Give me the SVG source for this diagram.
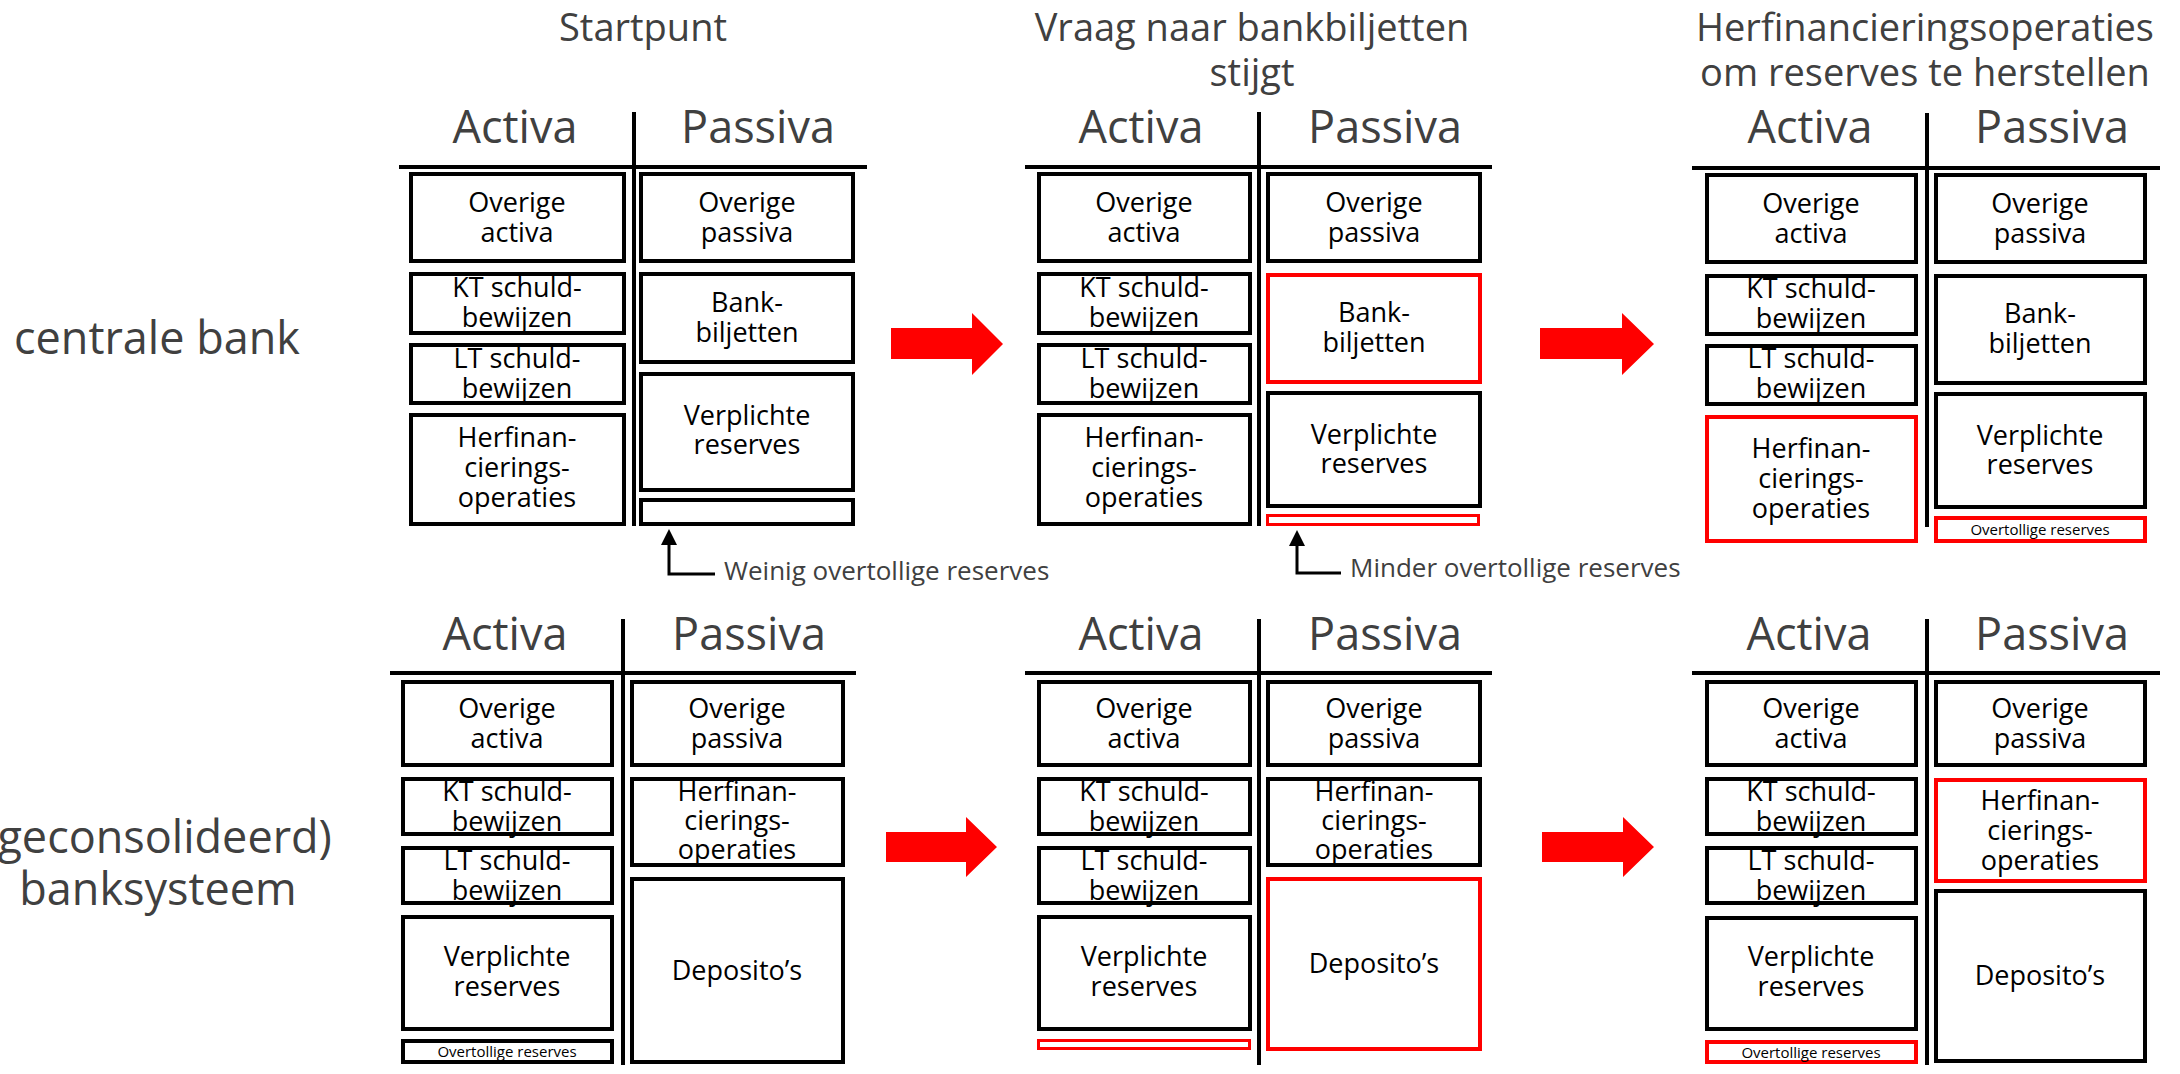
<svg xmlns="http://www.w3.org/2000/svg" width="2180" height="1074" viewBox="0 0 2180 1074">
  <style>
    text { font-family: "Open Sans", "Noto Sans", "Liberation Sans", sans-serif; text-anchor: middle; }
    .box { fill: #fff; stroke: #000; stroke-width: 4; }
    .red { stroke: #ff0000; }
    .thin { stroke-width: 3; }
    .rule { stroke: #000; stroke-width: 4; fill: none; }
    .lbl { font-size: 27px; fill: #000; }
    .small { font-size: 15px; fill: #000; }
    .hdr { font-size: 45px; fill: #404040; }
    .ttl { font-size: 38px; fill: #404040; }
    .side { font-size: 45px; fill: #404040; }
    .note { font-size: 26px; fill: #404040; text-anchor: start; }
    .bigarrow { fill: #ff0000; }
    .ptr { stroke: #000; stroke-width: 3; fill: none; }
    .ptrhead { fill: #000; }
  </style>

  <!-- row labels -->
  <g id="row-centrale-bank">
    <text class="side" x="157" y="354">centrale bank</text>
  </g>
  <g id="row-banksysteem">
    <text class="side" x="158" y="853">(geconsolideerd)</text>
    <text class="side" x="158" y="905">banksysteem</text>
  </g>

  <!-- column titles -->
  <g id="title-startpunt">
    <text class="ttl" x="643" y="41">Startpunt</text>
  </g>
  <g id="title-vraag">
    <text class="ttl" x="1252" y="41">Vraag naar bankbiljetten</text>
    <text class="ttl" x="1252" y="86">stijgt</text>
  </g>
  <g id="title-herfinanciering">
    <text class="ttl" x="1925" y="41">Herfinancieringsoperaties</text>
    <text class="ttl" x="1925" y="86">om reserves te herstellen</text>
  </g>

  <!-- ===== central bank, start ===== -->
  <g id="cb-start">
    <text class="hdr" x="515" y="143">Activa</text>
    <text class="hdr" x="758" y="143">Passiva</text>
    <line class="rule" x1="399" y1="167" x2="867" y2="167"/>
    <line class="rule" x1="634" y1="112" x2="634" y2="526"/>
    <g id="cb1-overige-activa"><rect class="box" x="411" y="174" width="213" height="87"/>
      <text class="lbl" x="517" y="212">Overige</text><text class="lbl" x="517" y="242">activa</text></g>
    <g id="cb1-kt"><rect class="box" x="411" y="274" width="213" height="59"/>
      <text class="lbl" x="517" y="297">KT schuld-</text><text class="lbl" x="517" y="327">bewijzen</text></g>
    <g id="cb1-lt"><rect class="box" x="411" y="345" width="213" height="58"/>
      <text class="lbl" x="517" y="368">LT schuld-</text><text class="lbl" x="517" y="398">bewijzen</text></g>
    <g id="cb1-herfin"><rect class="box" x="411" y="415" width="213" height="109"/>
      <text class="lbl" x="517" y="447">Herfinan-</text><text class="lbl" x="517" y="477">cierings-</text><text class="lbl" x="517" y="507">operaties</text></g>
    <g id="cb1-overige-passiva"><rect class="box" x="641" y="174" width="212" height="87"/>
      <text class="lbl" x="747" y="212">Overige</text><text class="lbl" x="747" y="242">passiva</text></g>
    <g id="cb1-bankbiljetten"><rect class="box" x="641" y="274" width="212" height="88"/>
      <text class="lbl" x="747" y="312">Bank-</text><text class="lbl" x="747" y="342">biljetten</text></g>
    <g id="cb1-verplicht"><rect class="box" x="641" y="374" width="212" height="116"/>
      <text class="lbl" x="747" y="425">Verplichte</text><text class="lbl" x="747" y="454">reserves</text></g>
    <g id="cb1-overtollig"><rect class="box" x="641" y="500" width="212" height="24"/></g>
  </g>

  <!-- ===== central bank, more banknotes ===== -->
  <g id="cb-vraag">
    <text class="hdr" x="1141" y="143">Activa</text>
    <text class="hdr" x="1385" y="143">Passiva</text>
    <line class="rule" x1="1025" y1="167" x2="1492" y2="167"/>
    <line class="rule" x1="1259" y1="112" x2="1259" y2="526"/>
    <g id="cb2-overige-activa"><rect class="box" x="1039" y="174" width="211" height="87"/>
      <text class="lbl" x="1144" y="212">Overige</text><text class="lbl" x="1144" y="242">activa</text></g>
    <g id="cb2-kt"><rect class="box" x="1039" y="274" width="211" height="59"/>
      <text class="lbl" x="1144" y="297">KT schuld-</text><text class="lbl" x="1144" y="327">bewijzen</text></g>
    <g id="cb2-lt"><rect class="box" x="1039" y="345" width="211" height="58"/>
      <text class="lbl" x="1144" y="368">LT schuld-</text><text class="lbl" x="1144" y="398">bewijzen</text></g>
    <g id="cb2-herfin"><rect class="box" x="1039" y="415" width="211" height="109"/>
      <text class="lbl" x="1144" y="447">Herfinan-</text><text class="lbl" x="1144" y="477">cierings-</text><text class="lbl" x="1144" y="507">operaties</text></g>
    <g id="cb2-overige-passiva"><rect class="box" x="1268" y="174" width="212" height="87"/>
      <text class="lbl" x="1374" y="212">Overige</text><text class="lbl" x="1374" y="242">passiva</text></g>
    <g id="cb2-bankbiljetten"><rect class="box red" x="1268" y="275" width="212" height="107"/>
      <text class="lbl" x="1374" y="322">Bank-</text><text class="lbl" x="1374" y="352">biljetten</text></g>
    <g id="cb2-verplicht"><rect class="box" x="1268" y="393" width="212" height="113"/>
      <text class="lbl" x="1374" y="444">Verplichte</text><text class="lbl" x="1374" y="473">reserves</text></g>
    <g id="cb2-overtollig"><rect class="box red thin" x="1267.5" y="515.5" width="211" height="9"/></g>
  </g>

  <!-- ===== central bank, refinancing ===== -->
  <g id="cb-herfin">
    <text class="hdr" x="1810" y="143">Activa</text>
    <text class="hdr" x="2052" y="143">Passiva</text>
    <line class="rule" x1="1692" y1="168" x2="2160" y2="168"/>
    <line class="rule" x1="1927" y1="113" x2="1927" y2="527"/>
    <g id="cb3-overige-activa"><rect class="box" x="1707" y="175" width="209" height="87"/>
      <text class="lbl" x="1811" y="213">Overige</text><text class="lbl" x="1811" y="243">activa</text></g>
    <g id="cb3-kt"><rect class="box" x="1707" y="276" width="209" height="58"/>
      <text class="lbl" x="1811" y="298">KT schuld-</text><text class="lbl" x="1811" y="328">bewijzen</text></g>
    <g id="cb3-lt"><rect class="box" x="1707" y="346" width="209" height="58"/>
      <text class="lbl" x="1811" y="368">LT schuld-</text><text class="lbl" x="1811" y="398">bewijzen</text></g>
    <g id="cb3-herfin"><rect class="box red" x="1707" y="417" width="209" height="124"/>
      <text class="lbl" x="1811" y="458">Herfinan-</text><text class="lbl" x="1811" y="488">cierings-</text><text class="lbl" x="1811" y="518">operaties</text></g>
    <g id="cb3-overige-passiva"><rect class="box" x="1936" y="175" width="209" height="87"/>
      <text class="lbl" x="2040" y="213">Overige</text><text class="lbl" x="2040" y="243">passiva</text></g>
    <g id="cb3-bankbiljetten"><rect class="box" x="1936" y="276" width="209" height="107"/>
      <text class="lbl" x="2040" y="323">Bank-</text><text class="lbl" x="2040" y="353">biljetten</text></g>
    <g id="cb3-verplicht"><rect class="box" x="1936" y="394" width="209" height="113"/>
      <text class="lbl" x="2040" y="445">Verplichte</text><text class="lbl" x="2040" y="474">reserves</text></g>
    <g id="cb3-overtollig"><rect class="box red" x="1936" y="518" width="209" height="23"/>
      <text class="small" x="2040" y="535">Overtollige reserves</text></g>
  </g>

  <!-- ===== banking system, start ===== -->
  <g id="bs-start">
    <text class="hdr" x="505" y="650">Activa</text>
    <text class="hdr" x="749" y="650">Passiva</text>
    <line class="rule" x1="390" y1="673" x2="856" y2="673"/>
    <line class="rule" x1="623" y1="619" x2="623" y2="1065"/>
    <g id="bs1-overige-activa"><rect class="box" x="403" y="682" width="209" height="83"/>
      <text class="lbl" x="507" y="718">Overige</text><text class="lbl" x="507" y="748">activa</text></g>
    <g id="bs1-kt"><rect class="box" x="403" y="779" width="209" height="55"/>
      <text class="lbl" x="507" y="801">KT schuld-</text><text class="lbl" x="507" y="831">bewijzen</text></g>
    <g id="bs1-lt"><rect class="box" x="403" y="848" width="209" height="55"/>
      <text class="lbl" x="507" y="870">LT schuld-</text><text class="lbl" x="507" y="900">bewijzen</text></g>
    <g id="bs1-verplicht"><rect class="box" x="403" y="917" width="209" height="112"/>
      <text class="lbl" x="507" y="966">Verplichte</text><text class="lbl" x="507" y="996">reserves</text></g>
    <g id="bs1-overtollig"><rect class="box" x="403" y="1041" width="209" height="21"/>
      <text class="small" x="507" y="1057">Overtollige reserves</text></g>
    <g id="bs1-overige-passiva"><rect class="box" x="632" y="682" width="211" height="83"/>
      <text class="lbl" x="737" y="718">Overige</text><text class="lbl" x="737" y="748">passiva</text></g>
    <g id="bs1-herfin"><rect class="box" x="632" y="779" width="211" height="86"/>
      <text class="lbl" x="737" y="801">Herfinan-</text><text class="lbl" x="737" y="830">cierings-</text><text class="lbl" x="737" y="859">operaties</text></g>
    <g id="bs1-deposito"><rect class="box" x="632" y="879" width="211" height="183"/>
      <text class="lbl" x="737" y="980">Deposito’s</text></g>
  </g>

  <!-- ===== banking system, more banknotes ===== -->
  <g id="bs-vraag">
    <text class="hdr" x="1141" y="650">Activa</text>
    <text class="hdr" x="1385" y="650">Passiva</text>
    <line class="rule" x1="1025" y1="673" x2="1492" y2="673"/>
    <line class="rule" x1="1259" y1="619" x2="1259" y2="1065"/>
    <g id="bs2-overige-activa"><rect class="box" x="1039" y="682" width="211" height="83"/>
      <text class="lbl" x="1144" y="718">Overige</text><text class="lbl" x="1144" y="748">activa</text></g>
    <g id="bs2-kt"><rect class="box" x="1039" y="779" width="211" height="55"/>
      <text class="lbl" x="1144" y="801">KT schuld-</text><text class="lbl" x="1144" y="831">bewijzen</text></g>
    <g id="bs2-lt"><rect class="box" x="1039" y="848" width="211" height="55"/>
      <text class="lbl" x="1144" y="870">LT schuld-</text><text class="lbl" x="1144" y="900">bewijzen</text></g>
    <g id="bs2-verplicht"><rect class="box" x="1039" y="917" width="211" height="112"/>
      <text class="lbl" x="1144" y="966">Verplichte</text><text class="lbl" x="1144" y="996">reserves</text></g>
    <g id="bs2-overtollig"><rect class="box red thin" x="1038.5" y="1040.5" width="211" height="8"/></g>
    <g id="bs2-overige-passiva"><rect class="box" x="1268" y="682" width="212" height="83"/>
      <text class="lbl" x="1374" y="718">Overige</text><text class="lbl" x="1374" y="748">passiva</text></g>
    <g id="bs2-herfin"><rect class="box" x="1268" y="779" width="212" height="86"/>
      <text class="lbl" x="1374" y="801">Herfinan-</text><text class="lbl" x="1374" y="830">cierings-</text><text class="lbl" x="1374" y="859">operaties</text></g>
    <g id="bs2-deposito"><rect class="box red" x="1268" y="879" width="212" height="170"/>
      <text class="lbl" x="1374" y="973">Deposito’s</text></g>
  </g>

  <!-- ===== banking system, refinancing ===== -->
  <g id="bs-herfin">
    <text class="hdr" x="1809" y="650">Activa</text>
    <text class="hdr" x="2052" y="650">Passiva</text>
    <line class="rule" x1="1692" y1="673" x2="2160" y2="673"/>
    <line class="rule" x1="1927" y1="619" x2="1927" y2="1065"/>
    <g id="bs3-overige-activa"><rect class="box" x="1707" y="682" width="209" height="83"/>
      <text class="lbl" x="1811" y="718">Overige</text><text class="lbl" x="1811" y="748">activa</text></g>
    <g id="bs3-kt"><rect class="box" x="1707" y="779" width="209" height="55"/>
      <text class="lbl" x="1811" y="801">KT schuld-</text><text class="lbl" x="1811" y="831">bewijzen</text></g>
    <g id="bs3-lt"><rect class="box" x="1707" y="848" width="209" height="55"/>
      <text class="lbl" x="1811" y="870">LT schuld-</text><text class="lbl" x="1811" y="900">bewijzen</text></g>
    <g id="bs3-verplicht"><rect class="box" x="1707" y="918" width="209" height="111"/>
      <text class="lbl" x="1811" y="966">Verplichte</text><text class="lbl" x="1811" y="996">reserves</text></g>
    <g id="bs3-overtollig"><rect class="box red" x="1707" y="1042" width="209" height="20"/>
      <text class="small" x="1811" y="1058">Overtollige reserves</text></g>
    <g id="bs3-overige-passiva"><rect class="box" x="1936" y="682" width="209" height="83"/>
      <text class="lbl" x="2040" y="718">Overige</text><text class="lbl" x="2040" y="748">passiva</text></g>
    <g id="bs3-herfin"><rect class="box red" x="1936" y="780" width="209" height="101"/>
      <text class="lbl" x="2040" y="810">Herfinan-</text><text class="lbl" x="2040" y="840">cierings-</text><text class="lbl" x="2040" y="870">operaties</text></g>
    <g id="bs3-deposito"><rect class="box" x="1936" y="891" width="209" height="170"/>
      <text class="lbl" x="2040" y="985">Deposito’s</text></g>
  </g>

  <!-- connectors: step arrows and pointer callouts -->
  <g id="connectors">
    <polygon class="bigarrow" points="891,328 972,328 972,313 1003,344 972,375 972,359 891,359"/>
    <polygon class="bigarrow" points="1540,328 1622,328 1622,313 1654,344 1622,375 1622,359 1540,359"/>
    <polygon class="bigarrow" points="886,832 966,832 966,817 997,847 966,877 966,862 886,862"/>
    <polygon class="bigarrow" points="1542,832 1623,832 1623,817 1654,847 1623,877 1623,862 1542,862"/>

    <polyline class="ptr" points="669,544 669,574 715,574"/>
    <polygon class="ptrhead" points="669,529 677,545 661,545"/>
    <polyline class="ptr" points="1297,545 1297,573 1341,573"/>
    <polygon class="ptrhead" points="1297,530 1305,546 1289,546"/>
  </g>
  <g id="callout-labels">
    <text class="note" x="724" y="580">Weinig overtollige reserves</text>
    <text class="note" x="1350" y="577">Minder overtollige reserves</text>
  </g>
</svg>
